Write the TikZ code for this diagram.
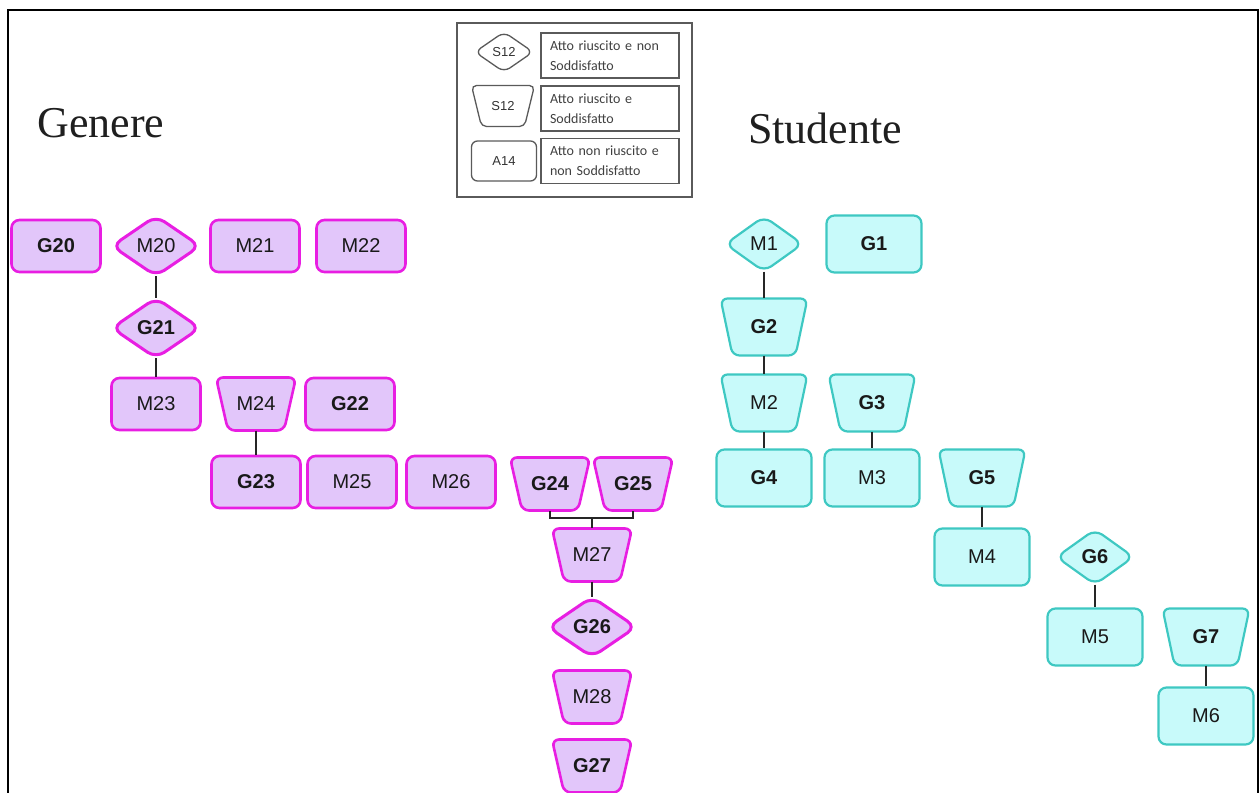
\documentclass[tikz,border=0pt]{standalone}
\usepackage{fontspec}
\setmainfont{Liberation Serif}
\setsansfont{Liberation Sans}
\newfontfamily\legendfont{Carlito}

\definecolor{pinkfill}{RGB}{226,198,250}
\definecolor{pinkedge}{RGB}{232,30,226}
\definecolor{cyanfill}{RGB}{200,250,250}
\definecolor{cyanedge}{RGB}{62,200,194}
\definecolor{legendline}{RGB}{90,90,90}

\tikzset{
  lbl/.style={inner sep=0pt, text=black!90, font=\sffamily\fontsize{20}{24}\selectfont},
  pinkstyle/.style={draw=pinkedge, fill=pinkfill, line width=2.6pt, rounded corners=7pt},
  pinkdiastyle/.style={pinkstyle, line width=3pt, rounded corners=10pt},
  cyanstyle/.style={draw=cyanedge, fill=cyanfill, line width=2.2pt, rounded corners=7pt},
  cyandiastyle/.style={cyanstyle, rounded corners=9pt},
  pbox/.style={lbl, draw=pinkedge, fill=pinkfill, line width=2.6pt, rounded corners=8pt,
    minimum width=89pt, minimum height=52pt},
  cbox/.style={lbl, draw=cyanedge, fill=cyanfill, line width=2.2pt, rounded corners=8pt,
    minimum width=95pt, minimum height=57pt},
  conn/.style={draw=black!85, line width=1.6pt},
  legline/.style={draw=legendline, fill=white, line width=1.3pt, rounded corners=5pt},
  leglbl/.style={inner sep=0pt, text=black!80, font=\sffamily\fontsize{13}{15}\selectfont},
  legtext/.style={draw=legendline, line width=1.3pt, minimum width=138pt, minimum height=45pt,
    text width=120pt, align=left, inner sep=0pt, text=black!75,
    font=\legendfont\fontsize{14}{20}\selectfont},
  title/.style={inner sep=0pt, anchor=base, text=black!88, font=\fontsize{44}{50}\selectfont}
}

% outline of a trapezoid, wide side on top: style, centre, half width, half height, inset
\newcommand\trapoutline[5]{%
  \path[#1] (#2) ++(-#3,-#4) -- ++({2*#3},0) -- ++({-#5},{2*#4})
    -- ++({-2*#3+2*#5},0) -- cycle;}
% outline of a diamond: style, centre, half width, half height
\newcommand\diaoutline[4]{%
  \path[#1] (#2) ++(0,-#4) -- ++(#3,#4) -- ++(-#3,#4) -- ++(-#3,-#4) -- cycle;}

% pink (Genere) shapes: name, centre, label
\newcommand\ptrap[3]{\trapoutline{pinkstyle}{#2}{40}{26.5}{12}%
  \node[lbl, minimum width=80pt, minimum height=53pt] (#1) at (#2) {#3};}
\newcommand\pdia[3]{\diaoutline{pinkdiastyle}{#2}{44}{30}%
  \node[lbl, minimum width=88pt, minimum height=60pt] (#1) at (#2) {#3};}
% cyan (Studente) shapes
\newcommand\ctrap[3]{\trapoutline{cyanstyle}{#2}{43.5}{28.5}{12}%
  \node[lbl, minimum width=87pt, minimum height=57pt] (#1) at (#2) {#3};}
\newcommand\cdia[3]{\diaoutline{cyandiastyle}{#2}{38.5}{27.5}%
  \node[lbl, minimum width=77pt, minimum height=55pt] (#1) at (#2) {#3};}

\begin{document}
\begin{tikzpicture}[x=1pt, y=-1pt]
\useasboundingbox (0,0) rectangle (1260,792);

% outer frame, open at the bottom
\draw[line width=2pt] (8,800) -- (8,10) -- (1258,10) -- (1258,800);

% legend
\node[draw=legendline, line width=1.3pt, minimum width=235pt, minimum height=174pt, inner sep=0pt] (legend) at (574.5,110) {};
\diaoutline{legline, rounded corners=7pt}{504,52}{29}{20}
\node[leglbl, minimum width=58pt, minimum height=40pt] (legA) at (504,52) {S12};
\trapoutline{legline}{503,106}{31.5}{20.5}{10}
\node[leglbl, minimum width=63pt, minimum height=41pt] (legB) at (503,106) {S12};
\node[leglbl, legline, rounded corners=6pt, minimum width=65pt, minimum height=40pt] (legC) at (504,161) {A14};
\node[legtext] (legAt) at (610,55.5) {Atto riuscito e non\\Soddisfatto};
\node[legtext] (legBt) at (610,108.5) {Atto riuscito e\\Soddisfatto};
\node[legtext] (legCt) at (610,161) {Atto non riuscito e\\non Soddisfatto};

% titles
\node[title] (genere) at (101,137) {Genere};
\node[title] (studente) at (825,143) {Studente};

% Genere column
\node[pbox] (G20) at (56,246) {\textbf{G20}};
\pdia{M20}{156,246}{M20}
\node[pbox] (M21) at (255,246) {M21};
\node[pbox] (M22) at (361,246) {M22};
\pdia{G21}{156,328}{\textbf{G21}}
\node[pbox] (M23) at (156,404) {M23};
\ptrap{M24}{256,404}{M24}
\node[pbox] (G22) at (350,404) {\textbf{G22}};
\node[pbox] (G23) at (256,482) {\textbf{G23}};
\node[pbox] (M25) at (352,482) {M25};
\node[pbox] (M26) at (451,482) {M26};
\ptrap{G24}{550,484}{\textbf{G24}}
\ptrap{G25}{633,484}{\textbf{G25}}
\ptrap{M27}{592,555}{M27}
\pdia{G26}{592,627}{\textbf{G26}}
\ptrap{M28}{592,697}{M28}
\ptrap{G27}{592,766}{\textbf{G27}}

\draw[conn] (M20.south) -- (G21.north);
\draw[conn] (G21.south) -- (M23.north);
\draw[conn] (M24.south) -- (G23.north);
\coordinate (join) at (592,518);
\draw[conn] (G24.south) |- (join) -| (G25.south);
\draw[conn] (join) -- (M27.north);
\draw[conn] (M27.south) -- (G26.north);

% Studente column
\cdia{M1}{764,244}{M1}
\node[cbox] (G1) at (874,244) {\textbf{G1}};
\ctrap{G2}{764,327}{\textbf{G2}}
\ctrap{M2}{764,403}{M2}
\ctrap{G3}{872,403}{\textbf{G3}}
\node[cbox] (G4) at (764,478) {\textbf{G4}};
\node[cbox] (M3) at (872,478) {M3};
\ctrap{G5}{982,478}{\textbf{G5}}
\node[cbox] (M4) at (982,557) {M4};
\cdia{G6}{1095,557}{\textbf{G6}}
\node[cbox] (M5) at (1095,637) {M5};
\ctrap{G7}{1206,637}{\textbf{G7}}
\node[cbox] (M6) at (1206,716) {M6};

\draw[conn] (M1.south) -- (G2.north);
\draw[conn] (G2.south) -- (M2.north);
\draw[conn] (M2.south) -- (G4.north);
\draw[conn] (G3.south) -- (M3.north);
\draw[conn] (G5.south) -- (M4.north);
\draw[conn] (G6.south) -- (M5.north);
\draw[conn] (G7.south) -- (M6.north);
\end{tikzpicture}
\end{document}
